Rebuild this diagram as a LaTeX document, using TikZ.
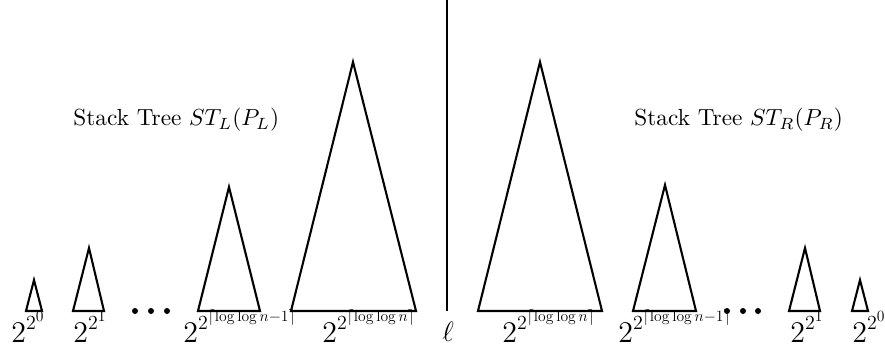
\documentclass[tikz,border=0pt]{standalone}
\usepackage{graphicx}
\newcommand{\twopow}[1]{2\raisebox{5.6pt}{\scalebox{0.667}{2\raisebox{5.6pt}{\scalebox{0.84}{$#1$}}}}}
\begin{document}
\begin{tikzpicture}[x=0.43pt,y=-0.43pt,
  tri/.style={line width=0.9pt,line join=miter},
  lbl/.style={inner sep=0pt,anchor=base west,font=\fontsize{12.9pt}{15pt}\selectfont},
  dotc/.style={fill=black,draw=none},
  txt/.style={inner sep=0pt,anchor=base west}]
\useasboundingbox (0,0) rectangle (885,351);
% vertical divider
\coordinate (vtop) at (447,0);
\coordinate (vbot) at (447,311);
\draw[line width=1pt] (vtop) -- (vbot);
% left triangles
\draw[tri] (26,311) -- (34,280) -- (42,311) -- cycle;
\draw[tri] (73,311) -- (89,248) -- (104,311) -- cycle;
\draw[tri] (198,311) -- (229,187) -- (260,311) -- cycle;
\draw[tri] (291,311) -- (353,62) -- (416,311) -- cycle;
% right triangles
\draw[tri] (478,311) -- (540,62) -- (602,311) -- cycle;
\draw[tri] (633,311) -- (665,185) -- (696,311) -- cycle;
\draw[tri] (789,311) -- (805,248) -- (820,311) -- cycle;
\draw[tri] (852,311) -- (860,280) -- (868,311) -- cycle;
% dots
\foreach \x in {135,151,167,727,743,758}
  \fill[dotc] (\x,311) circle (3);
% labels
\node[lbl] (l1) at (11,343) {\twopow{0}};
\node[lbl] (l2) at (73,343) {\twopow{1}};
\node[lbl] (l3) at (183,343) {\twopow{\lceil\log\log n{-}1\rceil}};
\node[lbl] (l4) at (322,343) {\twopow{\lceil\log\log n\rceil}};
\node[lbl,anchor=base] (ell) at (448,342) {$\ell$};
\node[lbl] (r4) at (502,343) {\twopow{\lceil\log\log n\rceil}};
\node[lbl] (r3) at (618,343) {\twopow{\lceil\log\log n{-}1\rceil}};
\node[lbl] (r2) at (790,343) {\twopow{1}};
\node[lbl] (r1) at (852,343) {\twopow{0}};
% titles
\node[txt] (stl) at (73,126) {Stack Tree $ST_L(P_L)$};
\node[txt] (str) at (634,126) {Stack Tree $ST_R(P_R)$};
\end{tikzpicture}
\end{document}
